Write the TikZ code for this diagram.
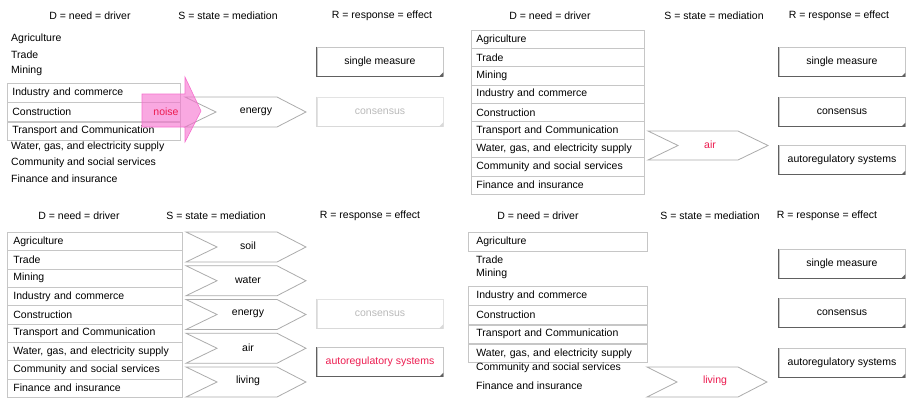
\documentclass[tikz,border=0pt]{standalone}
\usepackage{fontspec}
\setmainfont{Liberation Sans}
\usetikzlibrary{positioning}
\definecolor{alert}{RGB}{236,28,80}
\definecolor{noisepink}{RGB}{245,110,205}
\newcommand{\sectors}{Agriculture, Trade, Mining, Industry and commerce, Construction, Transport and Communication, {Water, gas, and electricity supply}, Community and social services, Finance and insurance}

\begin{document}
\begin{tikzpicture}[x=1pt,y=-1pt,font=\fontsize{10.5}{12}\selectfont,
    cell/.style={draw=gray!45,line width=0.8pt,anchor=north west,minimum width=173pt,text width=163pt,inner xsep=5pt,inner ysep=0pt,align=left},
    item/.style={anchor=west,inner xsep=5pt},
    chev/.style={draw=gray!65,line width=0.8pt,fill=white},
    resp/.style={draw=gray!45,line width=0.6pt,minimum width=126pt,minimum height=29pt,inner sep=0pt},
    faded/.style={resp,draw=gray!22,text=gray!55}]
  \useasboundingbox (0,0) rectangle (906,400);

  % top left: one sector group, noise on energy
  \node (tlD) at (90,16) {D = need = driver};
  \node (tlS) at (228,16) {S = state = mediation};
  \node (tlR) at (382,16) {R = response = effect};
  \node[item] (tl1) at (6,39) {Agriculture};
  \node[item] (tl2) at (6,55) {Trade};
  \node[item] (tl3) at (6,71) {Mining};
  \node[cell,minimum height=18.5pt] (tl4) at (7,83) {Industry and commerce};
  \node[cell,minimum height=18.5pt,below=0pt of tl4] (tl5) {Construction};
  \node[cell,minimum height=18.5pt,below=0pt of tl5] (tl6) {Transport and Communication};
  \node[item] (tl7) at (6,147) {Water, gas, and electricity supply};
  \node[item] (tl8) at (6,163) {Community and social services};
  \node[item] (tl9) at (6,179) {Finance and insurance};
  \draw[chev] (185,97) -- ++(92,0) -- ++(29,15) -- ++(-29,15) -- ++(-92,0) -- ++(31,-15) -- cycle;
  \node (tlen) at (256,112) {energy};
  \node[resp] (tlsm) at (380,61.5) {single measure};
  \node[faded] (tlcs) at (380,111.5) {consensus};
  \draw[draw=noisepink,fill=noisepink,fill opacity=0.6,line width=0.6pt]
    (142,94) -- (185,94) -- (185,77) -- (201,111) -- (185,142) -- (185,127) -- (142,127) -- cycle;
  \node[text=alert] (tlno) at (166,112) {noise};

  % top right: all sectors, air
  \node (trD) at (550,16) {D = need = driver};
  \node (trS) at (714,16) {S = state = mediation};
  \node (trR) at (839,16) {R = response = effect};
  \foreach \t [count=\i] in \sectors
    \node[cell,minimum height=18.2pt] (tr\i) at (471,{30+18.2*(\i-1)}) {\t};
  \draw[chev] (648,131) -- ++(90,0) -- ++(30,14.5) -- ++(-30,14.5) -- ++(-90,0) -- ++(30,-14.5) -- cycle;
  \node[text=alert] (trai) at (710,145) {air};
  \node[resp] (trsm) at (842,62) {single measure};
  \node[resp] (trcs) at (842,112) {consensus};
  \node[resp] (trar) at (842,160) {autoregulatory systems};

  % bottom left: all sectors, all media
  \node (blD) at (79,216) {D = need = driver};
  \node (blS) at (216,216) {S = state = mediation};
  \node (blR) at (370,216) {R = response = effect};
  \foreach \t [count=\i] in \sectors
    \node[cell,minimum height=18.33pt,inner xsep=6pt] (bl\i) at (7,{232+18.33*(\i-1)}) {\t};
  \foreach \m [count=\i] in {soil,water,energy,air,living}{
    \draw[chev] (186,{232+33.75*(\i-1)}) -- ++(91,0) -- ++(29,15) -- ++(-29,15) -- ++(-91,0) -- ++(31,-15) -- cycle;
    \node (blm\i) at (248,{246+33.75*(\i-1)}) {\m};
  }
  \node[faded] (blcs) at (380,313.5) {consensus};
  \node[resp,text=alert] (blar) at (380,362) {autoregulatory systems};

  % bottom right: five sectors, living
  \node (brD) at (538,216) {D = need = driver};
  \node (brS) at (710,216) {S = state = mediation};
  \node (brR) at (827,216) {R = response = effect};
  \node[cell,minimum height=19pt,inner xsep=8pt] (br1) at (468,232) {Agriculture};
  \node[item] (br2) at (471,260) {Trade};
  \node[item] (br3) at (471,274) {Mining};
  \node[cell,minimum height=18.5pt,inner xsep=8pt] (br4) at (468,286) {Industry and commerce};
  \node[cell,minimum height=18.5pt,inner xsep=8pt,below=0pt of br4] (br5) {Construction};
  \node[cell,minimum height=18.5pt,inner xsep=8pt,below=0pt of br5] (br6) {Transport and Communication};
  \node[cell,minimum height=18.5pt,inner xsep=8pt,below=0pt of br6] (br7) {Water, gas, and electricity supply};
  \node[item] (br8) at (471,368) {Community and social services};
  \node[item] (br9) at (471,386) {Finance and insurance};
  \draw[chev] (647,367) -- ++(91,0) -- ++(29,15) -- ++(-29,15) -- ++(-91,0) -- ++(30,-15) -- cycle;
  \node[text=alert] (brli) at (715,381) {living};
  \node[resp] (brsm) at (842,263.5) {single measure};
  \node[resp] (brcs) at (842,313) {consensus};
  \node[resp] (brar) at (842,363) {autoregulatory systems};

  % darker lower left edges and folded corners of the response boxes
  \foreach \n in {tlsm,trsm,trcs,trar,blar,brsm,brcs,brar}{
    \draw[gray!75!black,line width=1pt] (\n.north west) |- (\n.south east);
    \fill[gray!75!black] (\n.south east) -- ++(-4,0) -- ++(4,-4) -- cycle;
  }
  \foreach \n in {tlcs,blcs}{
    \draw[gray!30,line width=1pt] (\n.north west) |- (\n.south east);
    \fill[gray!30] (\n.south east) -- ++(-4,0) -- ++(4,-4) -- cycle;
  }
\end{tikzpicture}
\end{document}
